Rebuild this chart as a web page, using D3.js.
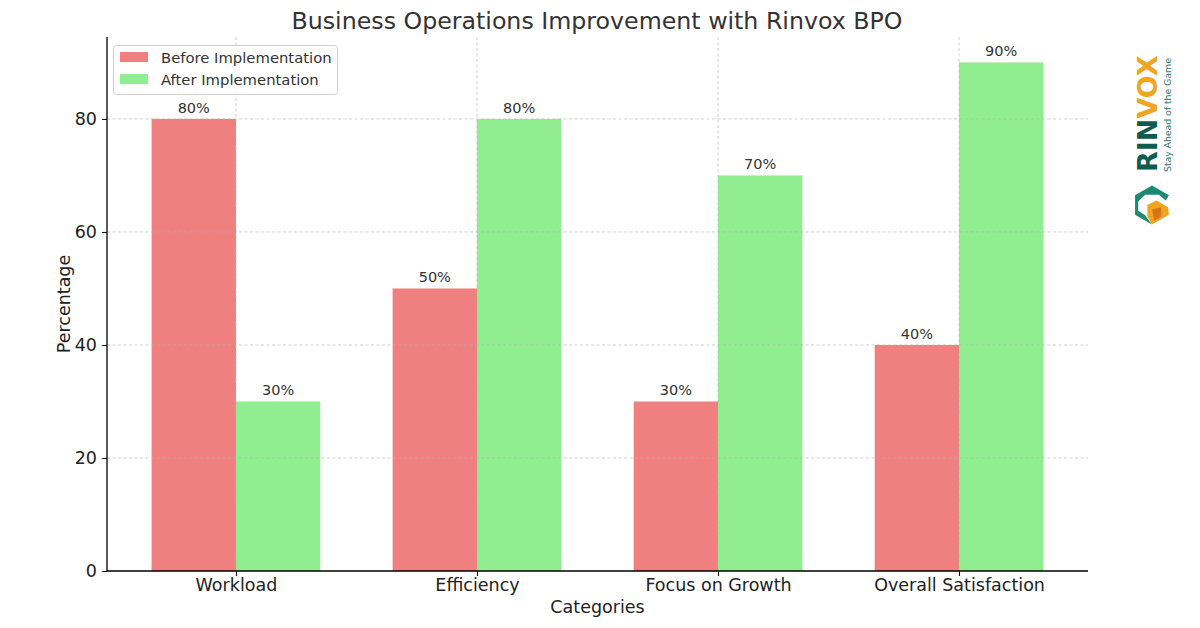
<!DOCTYPE html>
<html><head><meta charset="utf-8">
<script src="https://cdn.jsdelivr.net/npm/d3@7"></script>
<style>body{margin:0;background:#fff}svg{display:block}text{font-family:"DejaVu Sans",sans-serif}</style>
</head><body><svg id="c" width="1200" height="628"></svg>
<script>
const categories = ["Workload", "Efficiency", "Focus on Growth", "Overall Satisfaction"];
const beforeValues = [80, 50, 30, 40];
const afterValues = [30, 80, 70, 90];
const seriesNames = ["Before Implementation", "After Implementation"];
const yTicks = [0, 20, 40, 60, 80];

const svg = d3.select("#c");
const L = 107, R = 1088, T = 37, B = 571;
const bw = 0.35;
const x = d3.scaleLinear().domain([-0.535, 3.535]).range([L, R]);
const y = d3.scaleLinear().domain([0, 94.5]).range([B, T]);
const colors = ["#f08080", "#90ee90"];

const series = [beforeValues, afterValues];
series.forEach((vals, s) => {
  const off = s === 0 ? -bw : 0;
  svg.append("g").selectAll("rect").data(vals).join("rect")
    .attr("x", (d, i) => x(i + off))
    .attr("width", x(bw) - x(0))
    .attr("y", d => y(d))
    .attr("height", d => B - y(d))
    .attr("fill", colors[s]);
  svg.append("g").selectAll("text").data(vals).join("text")
    .attr("x", (d, i) => x(i + off + bw / 2))
    .attr("y", d => y(d) - 6)
    .attr("text-anchor", "middle")
    .attr("font-size", 14.5).attr("fill", "#333")
    .text(d => d + "%");
});

// grid
const grid = svg.append("g").attr("stroke", "#b0b0b0").attr("stroke-dasharray", "3,2.5").attr("stroke-width", 0.8).attr("opacity", 0.7);
yTicks.filter(t => t > 0).forEach(t => grid.append("line").attr("x1", L).attr("x2", R).attr("y1", y(t)).attr("y2", y(t)));
categories.forEach((c, i) => grid.append("line").attr("x1", x(i)).attr("x2", x(i)).attr("y1", T).attr("y2", B));

// axes
const xAxis = d3.axisBottom(x).tickValues(d3.range(categories.length)).tickFormat(i => categories[i]).tickSizeOuter(0).tickSize(5).tickPadding(3);
const gx = svg.append("g").attr("transform", `translate(0,${B})`).call(xAxis);
gx.select(".domain").attr("d", `M${L},0H${R}`).attr("stroke", "#000").attr("stroke-width", 1.3);
gx.selectAll("text").attr("font-size", 17.5).attr("fill", "#222").attr("font-family", "DejaVu Sans");
const yAxis = d3.axisLeft(y).tickValues(yTicks).tickSizeOuter(0).tickSize(5).tickPadding(5);
const gy = svg.append("g").attr("transform", `translate(${L},0)`).call(yAxis);
gy.select(".domain").attr("d", `M0,${B}V${T}`).attr("stroke", "#000").attr("stroke-width", 1.3);
gy.selectAll("text").attr("font-size", 17.5).attr("fill", "#222").attr("font-family", "DejaVu Sans");

svg.append("text").attr("x", (L + R) / 2).attr("y", 613).attr("text-anchor", "middle").attr("font-size", 17.5).attr("fill", "#222").text("Categories");
svg.append("text").attr("transform", `translate(70,${(T + B) / 2}) rotate(-90)`).attr("text-anchor", "middle").attr("font-size", 17.5).attr("fill", "#222").text("Percentage");
svg.append("text").attr("x", 597).attr("y", 29).attr("text-anchor", "middle").attr("font-size", 23.7).attr("fill", "#333").text("Business Operations Improvement with Rinvox BPO");

// legend
const lg = svg.append("g");
lg.append("rect").attr("x", 113.5).attr("y", 45.5).attr("width", 224).attr("height", 49).attr("rx", 3).attr("fill", "#fff").attr("fill-opacity", 0.85).attr("stroke", "#d0d0d0");
seriesNames.forEach((n, i) => {
  lg.append("rect").attr("x", 120).attr("y", 52 + i * 22).attr("width", 28).attr("height", 10).attr("fill", colors[i]);
  lg.append("text").attr("x", 161).attr("y", 62.5 + i * 22).attr("font-size", 14.8).attr("fill", "#333").text(n);
});

// logo
const logo = svg.append("g").attr("transform", "translate(1157,172) rotate(-90)");
const lt = logo.append("text").attr("x", 0).attr("y", 0).attr("font-size", 27).attr("font-weight", "bold").attr("font-family", "Roboto, sans-serif");
lt.append("tspan").attr("fill", "#0d5c4d").text("RIN");
lt.append("tspan").attr("fill", "#f0a51e").text("VOX");
logo.append("text").attr("x", 0).attr("y", 14).attr("font-size", 9.5).attr("fill", "#2e7d6c").attr("textLength", 114).text("Stay Ahead of the Game");

const ic = svg.append("g").attr("transform", "translate(1152,205) scale(1.15)");
const hex = d3.range(6).map(k => [17 * Math.cos(Math.PI / 3 * k - Math.PI / 2), 17 * Math.sin(Math.PI / 3 * k - Math.PI / 2)]);
ic.append("path").attr("d", `M${hex[4]}L${hex[5]}L${hex[0]}L${hex[1]}L${[12, -4]}L${[6, -9]}L${[-6, -9]}L${[-12, -3]}L${[-12, 5]}L${[-6, 9]}L${hex[3]}L${hex[4]}Z`).attr("fill", "#1c8a73");
ic.append("path").attr("d", `M${[-4, 0]}L${[4, -4]}L${[14, 2]}L${hex[2]}L${hex[3]}L${[-4, 10]}Z`).attr("fill", "#f0a51e");
ic.append("path").attr("d", `M${[0, 4]}L${[8, 2]}L${[8, 10]}L${[2, 14]}Z`).attr("fill", "#d9731a");
</script></body></html>
